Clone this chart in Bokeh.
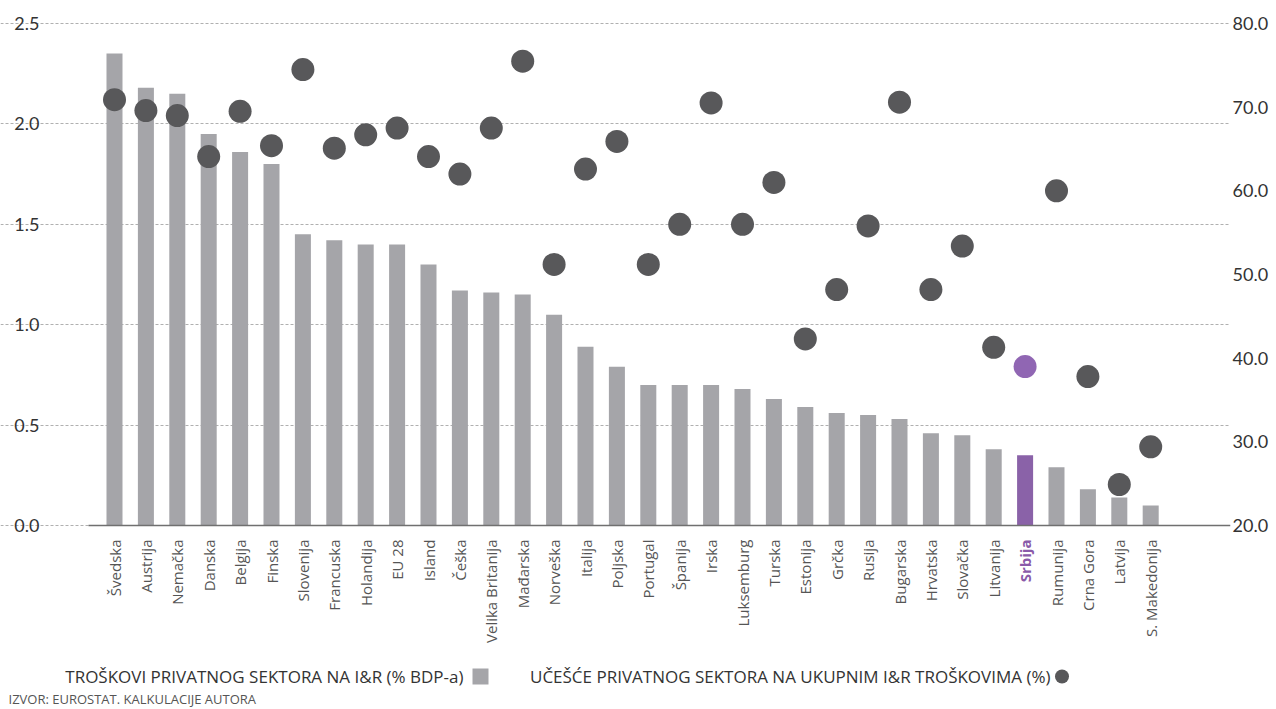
from math import pi
from bokeh.plotting import figure
from bokeh.models import (Range1d, LinearAxis, FixedTicker, PrintfTickFormatter,
                          ColumnDataSource)
from bokeh.embed import file_html
from bokeh.resources import INLINE
from bokeh.core.properties import value

# ---------------- data ----------------
countries = ["Švedska", "Austrija", "Nemačka", "Danska", "Belgija", "Finska",
             "Slovenija", "Francuska", "Holandija", "EU 28", "Island", "Češka",
             "Velika Britanija", "Mađarska", "Norveška", "Italija", "Poljska",
             "Portugal", "Španija", "Irska", "Luksemburg", "Turska", "Estonija",
             "Grčka", "Rusija", "Bugarska", "Hrvatska", "Slovačka", "Litvanija",
             "Srbija", "Rumunija", "Crna Gora", "Latvija", "S. Makedonija"]

# private sector R&D expenditure (% of GDP) - left axis
rd_gdp = [2.35, 2.18, 2.15, 1.95, 1.86, 1.80,
          1.45, 1.42, 1.40, 1.40, 1.30, 1.17,
          1.16, 1.15, 1.05, 0.89, 0.79,
          0.70, 0.70, 0.70, 0.68, 0.63, 0.59,
          0.56, 0.55, 0.53, 0.46, 0.45, 0.38,
          0.35, 0.29, 0.18, 0.14, 0.10]

# private sector share in total R&D expenditure (%) - right axis
rd_share = [70.9, 69.6, 69.0, 64.1, 69.5, 65.4,
            74.5, 65.1, 66.7, 67.5, 64.1, 62.0,
            67.5, 75.5, 51.2, 62.6, 65.9,
            51.2, 56.0, 70.5, 56.0, 61.0, 42.3,
            48.2, 55.8, 70.6, 48.2, 53.4, 41.3,
            39.0, 60.0, 37.8, 24.9, 29.4]

left_ticks = [0.0, 0.5, 1.0, 1.5, 2.0, 2.5]
right_ticks = [20, 30, 40, 50, 60, 70, 80]
highlight = "Srbija"

legend_labels = ["TROŠKOVI PRIVATNOG SEKTORA NA I&R (% BDP-a)",
                 "UČEŠĆE PRIVATNOG SEKTORA NA UKUPNIM I&R TROŠKOVIMA (%)"]
source_note = "IZVOR: EUROSTAT. KALKULACIJE AUTORA"

# ---------------- style / layout ----------------
BAR = "#a5a5a9"
DOT = "#58585a"
PURPLE_BAR = "#8a62a8"
PURPLE_DOT = "#9066b3"
PURPLE_TXT = "#8a5aa9"
NUM_FONT = "Lato"
TXT_FONT = "Open Sans"

W, H = 1276, 709
PLOT_L, PLOT_R, PLOT_T = 88, 1230, 23     # plot area (pixels)
AXIS_Y = 525                              # pixel row of value 0
CAT0_X, CAT_STEP = 114, 31.4              # pixel centre of first category, spacing
PX_PER_UNIT = (AXIS_Y - PLOT_T) / (left_ticks[-1] - left_ticks[0])
RIGHT_PER_LEFT = (right_ticks[-1] - right_ticks[0]) / (left_ticks[-1] - left_ticks[0])


def px_x(px):
    return (px - CAT0_X) / CAT_STEP


def px_y(py):
    return (AXIS_Y - py) / PX_PER_UNIT


idx = list(range(len(countries)))
src = ColumnDataSource(dict(
    x=idx, gdp=rd_gdp, share=rd_share,
    bar_color=[PURPLE_BAR if c == highlight else BAR for c in countries],
    dot_color=[PURPLE_DOT if c == highlight else DOT for c in countries],
))

y_lo, y_hi = px_y(H), px_y(0)
p = figure(width=W, height=H, x_range=Range1d(px_x(0), px_x(PLOT_R)),
           y_range=Range1d(y_lo, y_hi), output_backend="svg",
           toolbar_location=None, min_border_left=0, min_border_right=W - PLOT_R,
           min_border_top=0, min_border_bottom=0)
p.outline_line_color = None
p.background_fill_color = "white"
p.border_fill_color = "white"
p.extra_y_ranges = {"share": Range1d(right_ticks[0] + RIGHT_PER_LEFT * y_lo,
                                     right_ticks[0] + RIGHT_PER_LEFT * y_hi)}

p.vbar(x="x", top="gdp", width=0.51, fill_color="bar_color", line_color=None,
       source=src)
p.scatter(x="x", y="share", size=23, fill_color="dot_color", line_color=None,
          y_range_name="share", source=src)

# left axis (drawn inside the canvas at the plot-area edge)
lt = FixedTicker(ticks=left_ticks)
ya = p.yaxis[0]
ya.ticker = lt
ya.fixed_location = px_x(PLOT_L)
ya.formatter = PrintfTickFormatter(format="%.1f")
ya.axis_line_color = None
ya.major_tick_line_color = None
ya.minor_tick_line_color = None
ya.major_tick_out = 0
ya.major_tick_in = 0
ya.major_label_standoff = 49
ya.major_label_text_font = NUM_FONT
ya.major_label_text_font_size = "18px"
ya.major_label_text_color = "#333333"

# right axis
ra = LinearAxis(y_range_name="share", ticker=FixedTicker(ticks=right_ticks),
                formatter=PrintfTickFormatter(format="%.1f"))
ra.axis_line_color = None
ra.major_tick_line_color = None
ra.minor_tick_line_color = None
ra.major_tick_out = 0
ra.major_tick_in = 0
ra.major_label_standoff = 2
ra.major_label_text_font = NUM_FONT
ra.major_label_text_font_size = "18px"
ra.major_label_text_color = "#333333"
p.add_layout(ra, "right")

# x axis at value 0
xa = p.xaxis[0]
xa.fixed_location = 0
xa.bounds = (px_x(PLOT_L), px_x(PLOT_R))
xa.ticker = FixedTicker(ticks=idx)
xa.major_label_overrides = {i: ("" if c == highlight else c)
                            for i, c in enumerate(countries)}
xa.major_label_orientation = pi / 2
xa.major_tick_line_color = None
xa.minor_tick_line_color = None
xa.major_tick_out = 0
xa.major_tick_in = 0
xa.major_label_standoff = 14
xa.major_label_text_font = TXT_FONT
xa.major_label_text_font_size = "15px"
xa.major_label_text_color = "#555555"
xa.axis_line_color = "#707070"
xa.axis_line_width = 1.5

# grid
p.xgrid.visible = False
p.ygrid.ticker = lt
p.ygrid.bounds = (px_x(PLOT_L), px_x(PLOT_R))
p.ygrid.grid_line_color = "#b0b0b0"
p.ygrid.grid_line_dash = "3 2"
p.ygrid.grid_line_width = 1

# highlighted category label (bold purple)
hi = countries.index(highlight)
p.text(x=[hi], y=[px_y(AXIS_Y + 14)], text=[highlight], angle=pi / 2,
       text_align="right", text_baseline="middle", text_font=value(TXT_FONT),
       text_font_size="15px", text_font_style="bold", text_color=PURPLE_TXT)

# legend row
LEG_Y = px_y(676)
p.text(x=[px_x(463), px_x(1050)], y=[LEG_Y, LEG_Y], text=legend_labels,
       text_align="right", text_baseline="middle", text_font=value(TXT_FONT),
       text_font_size="17px", text_color="#333333")
p.scatter(x=[px_x(480)], y=[LEG_Y], marker="square", size=16,
          fill_color=BAR, line_color=None)
p.scatter(x=[px_x(1061.5)], y=[LEG_Y], marker="circle", size=14,
          fill_color=DOT, line_color=None)

# source note
p.text(x=[px_x(8)], y=[px_y(698)], text=[source_note], text_align="left",
       text_baseline="middle", text_font=value(TXT_FONT), text_font_size="13px",
       text_color="#555555")

open("out.html", "w").write(file_html(p, INLINE))
